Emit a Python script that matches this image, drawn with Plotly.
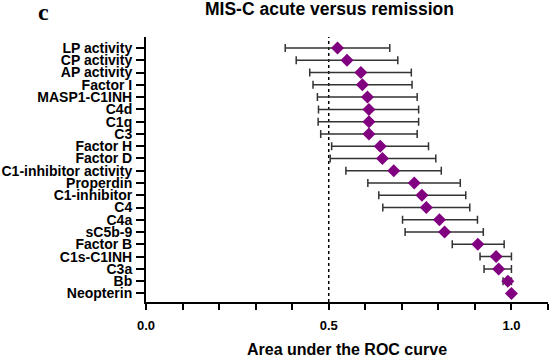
import plotly.graph_objects as go

categories = ["LP activity", "CP activity", "AP activity", "Factor I", "MASP1-C1INH",
              "C4d", "C1q", "C3", "Factor H", "Factor D", "C1-inhibitor activity",
              "Properdin", "C1-inhibitor", "C4", "C4a", "sC5b-9", "Factor B",
              "C1s-C1INH", "C3a", "Bb", "Neopterin"]
auc = [0.524, 0.550, 0.588, 0.592, 0.606, 0.610, 0.610, 0.610, 0.641, 0.647, 0.678,
       0.734, 0.755, 0.767, 0.803, 0.817, 0.908, 0.958, 0.965, 0.990, 1.000]
ci_low = [0.381, 0.411, 0.448, 0.457, 0.469, 0.472, 0.471, 0.478, 0.508, 0.504, 0.547,
          0.607, 0.637, 0.648, 0.702, 0.709, 0.838, 0.914, 0.925, 0.977, 1.000]
ci_high = [0.667, 0.689, 0.726, 0.728, 0.742, 0.746, 0.746, 0.742, 0.773, 0.793, 0.808,
           0.860, 0.875, 0.886, 0.907, 0.923, 0.980, 1.000, 1.000, 1.000, 1.000]
x_tickvals = [0.0, 0.5, 1.0]
x_ticktext = ["0.0", "0.5", "1.0"]

err_plus = [h - a for h, a in zip(ci_high, auc)]
err_minus = [a - l for a, l in zip(auc, ci_low)]

fig = go.Figure()
fig.add_trace(go.Scatter(
    x=auc, y=categories, mode="markers",
    marker=dict(symbol="diamond", size=10, color="#800080"),
    error_x=dict(type="data", symmetric=False, array=err_plus, arrayminus=err_minus,
                 color="#333333", thickness=1.5, width=4),
    showlegend=False,
))
fig.add_shape(type="line", x0=0.5, x1=0.5, y0=0, y1=1, xref="x", yref="paper",
              line=dict(color="black", width=1.5, dash="dot"), layer="below")

font = "Liberation Sans, Arial, sans-serif"
fig.update_layout(
    width=550, height=358,
    margin=dict(l=143, r=2, t=37, b=49),
    paper_bgcolor="white", plot_bgcolor="white",
    font=dict(family=font, size=12, color="black"),
    xaxis=dict(range=[0, 1.1], tickvals=x_tickvals, ticktext=x_ticktext,
               showgrid=False, zeroline=False, showline=True, linecolor="black", linewidth=2,
               ticks="outside", ticklen=6, tickwidth=2, tickcolor="black",
               tickfont=dict(family=font, size=13, color="black", weight="bold"),
               ticklabelstandoff=4,
               minor=dict(dtick=0.1, tick0=0, ticks="outside", ticklen=6, tickwidth=2, tickcolor="black", showgrid=False),
               title=dict(text="Area under the ROC curve", standoff=12,
                          font=dict(family=font, size=16, color="black", weight="bold"))),
    yaxis=dict(type="category", range=[20.7, -0.9], showgrid=False, zeroline=False,
               tickmode="array", tickvals=categories, ticktext=categories,
               showline=True, linecolor="black", linewidth=2,
               ticks="outside", ticklen=8, tickwidth=2, tickcolor="black",
               tickfont=dict(family=font, size=14, color="black", weight="bold"),
               ticklabelstandoff=1),
    annotations=[
        dict(text="MIS-C acute versus remission", xref="paper", yref="paper",
             x=0.457, y=1, yshift=28, xanchor="center", yanchor="middle", showarrow=False,
             font=dict(family=font, size=17.5, color="black", weight="bold")),
        dict(text="c", xref="paper", yref="paper", x=-0.255, y=1, yshift=25,
             xanchor="center", yanchor="middle", showarrow=False,
             font=dict(family="Liberation Serif, Times New Roman, serif", size=24, color="black", weight="bold")),
    ],
)
fig.write_html("out.html", config={"displayModeBar": False},
               post_script="document.body.style.margin='0';")
